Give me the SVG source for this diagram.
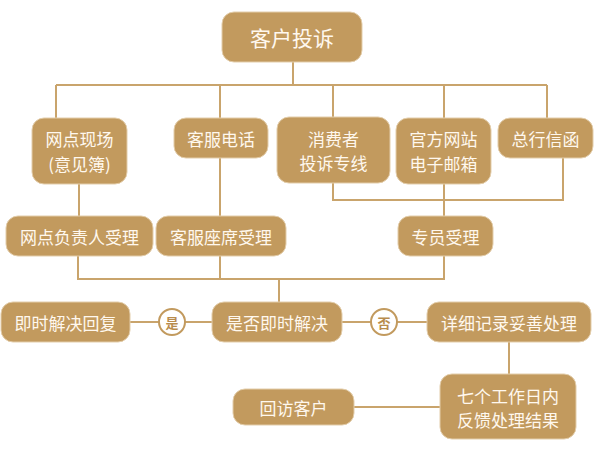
<svg xmlns="http://www.w3.org/2000/svg" width="594" height="453" viewBox="0 0 594 453">
<style>
.box{fill:#C29A5E;stroke:#E3CDAA;stroke-width:1}
.t{font-family:"Noto Sans CJK SC","Noto Sans CJK JP",sans-serif;font-size:17px;fill:#FFF8EE;text-anchor:middle;dominant-baseline:central}
.big{font-size:21px}
.ln{stroke:#C9A46C;stroke-width:2;fill:none}
.c{fill:#FFFFFF;stroke:#C29A5E;stroke-width:2}
.ct{font-family:"Noto Sans CJK SC","Noto Sans CJK JP",sans-serif;font-size:13px;font-weight:bold;fill:#B88C4E;text-anchor:middle;dominant-baseline:central}
</style>
<rect width="594" height="453" fill="#FFFFFF"/>
<g id="connectors">
<path class="ln" d="M293 62V85M56 85H547M56 85V118M220 85V118M333 85V118M444 85V118M547 85V118"/>
<path class="ln" d="M79 184V216M220 158V216M333 183V200H563V158M444 184V216"/>
<path class="ln" d="M78 256V279H444V256M220 256V279M279 279V302"/>
<path class="ln" d="M130 322H159M185 322H212M342 322H371M397 322H427"/>
<path class="ln" d="M509 342V374M354 407H440"/>
</g>
<g id="n-root"><rect class="box" x="222" y="12" width="140" height="50" rx="12"/><text class="t big" x="292" y="37">客户投诉</text></g>
<g id="n-wangdian"><rect class="box" x="32" y="118" width="95" height="66" rx="12"/><text class="t" x="79.5" y="138">网点现场</text><text class="t" x="79.5" y="163">(意见簿)</text></g>
<g id="n-kefu"><rect class="box" x="174" y="118" width="94" height="40" rx="12"/><text class="t" x="221" y="138">客服电话</text></g>
<g id="n-xiaofei"><rect class="box" x="277" y="117" width="113" height="66" rx="12"/><text class="t" x="333.5" y="138">消费者</text><text class="t" x="333.5" y="162">投诉专线</text></g>
<g id="n-guanfang"><rect class="box" x="396" y="118" width="95" height="66" rx="12"/><text class="t" x="443.5" y="138">官方网站</text><text class="t" x="443.5" y="163">电子邮箱</text></g>
<g id="n-zonghang"><rect class="box" x="498" y="118" width="95" height="40" rx="12"/><text class="t" x="545.5" y="138">总行信函</text></g>
<g id="n-fuzeren"><rect class="box" x="6" y="216" width="147" height="40" rx="12"/><text class="t" x="79.5" y="236">网点负责人受理</text></g>
<g id="n-zuoxi"><rect class="box" x="156" y="216" width="130" height="40" rx="12"/><text class="t" x="221" y="236">客服座席受理</text></g>
<g id="n-zhuanyuan"><rect class="box" x="398" y="216" width="95" height="40" rx="12"/><text class="t" x="445.5" y="236">专员受理</text></g>
<g id="n-huifu"><rect class="box" x="1" y="302" width="129" height="40" rx="12"/><text class="t" x="65.5" y="322">即时解决回复</text></g>
<g id="l-shi"><circle class="c" cx="172" cy="322" r="13"/><text class="ct" x="172" y="322">是</text></g>
<g id="n-shifou"><rect class="box" x="212" y="302" width="130" height="40" rx="12"/><text class="t" x="277" y="322">是否即时解决</text></g>
<g id="l-fou"><circle class="c" cx="384" cy="322" r="13"/><text class="ct" x="384" y="322">否</text></g>
<g id="n-xiangxi"><rect class="box" x="427" y="302" width="164" height="40" rx="12"/><text class="t" x="509" y="322">详细记录妥善处理</text></g>
<g id="n-qige"><rect class="box" x="440" y="374" width="136" height="65" rx="12"/><text class="t" x="508" y="395">七个工作日内</text><text class="t" x="508" y="419">反馈处理结果</text></g>
<g id="n-huifang"><rect class="box" x="233" y="389" width="121" height="36" rx="12"/><text class="t" x="293.5" y="407">回访客户</text></g>
</svg>
